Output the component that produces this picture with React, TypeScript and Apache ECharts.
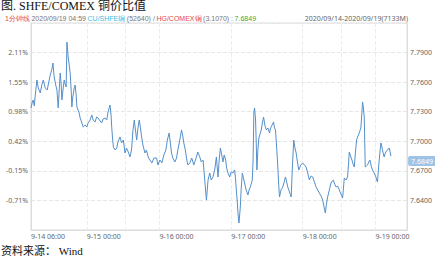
import React, { useEffect, useRef } from "react";
import * as echarts from "echarts";

// Trading-minute index (0..7133) and SHFE/COMEX copper price ratio
const MINUTES = [0,25,43,62,81,113,138,176,204,233,270,308,337,365,393,416,440,469,492,516,535,554,573,586,611,630,648,667,681,705,724,743,762,775,790,805,819,837,856,870,894,913,932,960,989,1027,1059,1083,1121,1153,1178,1216,1244,1272,1310,1342,1367,1405,1437,1461,1499,1518,1531,1546,1562,1594,1626,1650,1688,1717,1751,1783,1811,1845,1877,1906,1934,1959,1981,2004,2029,2053,2076,2098,2123,2161,2189,2223,2255,2293,2331,2382,2407,2444,2482,2520,2558,2586,2620,2643,2666,2690,2728,2760,2785,2822,2855,2879,2898,2927,2949,2974,3012,3049,3087,3138,3163,3201,3229,3263,3295,3327,3358,3390,3418,3452,3484,3516,3547,3569,3592,3617,3641,3664,3692,3711,3736,3768,3796,3830,3862,3881,3894,3910,3925,3944,3957,3970,3985,4008,4029,4051,4080,4114,4136,4159,4197,4212,4227,4240,4259,4273,4284,4303,4322,4344,4367,4391,4411,4435,4462,4492,4524,4543,4556,4581,4600,4618,4637,4662,4681,4698,4713,4741,4775,4802,4826,4849,4870,4902,4934,4959,4983,5006,5029,5053,5078,5116,5153,5186,5218,5248,5280,5312,5343,5375,5407,5437,5469,5501,5532,5554,5582,5601,5626,5658,5690,5715,5734,5759,5785,5815,5847,5879,5910,5926,5942,5974,6004,6021,6036,6061,6087,6108,6131,6154,6175,6201,6225,6244,6258,6273,6288,6305,6320,6329,6339,6362,6382,6405,6428,6452,6477,6509,6541,6556,6571,6588,6604,6622,6636,6651,6666,6683,6698,6713,6730,6760,6793,6811,6825];
const RATIO = [7.7338,7.7399,7.7419,7.7358,7.7470,7.7622,7.7541,7.7490,7.7571,7.7622,7.7541,7.7520,7.7601,7.7672,7.7723,7.7794,7.7652,7.7571,7.7520,7.7338,7.7520,7.7693,7.7571,7.7419,7.7541,7.7622,7.7581,7.7551,7.8007,7.7855,7.7774,7.7693,7.7520,7.7348,7.7439,7.7490,7.7541,7.7571,7.7470,7.7348,7.7317,7.7287,7.7236,7.7196,7.7145,7.7165,7.7145,7.7186,7.7216,7.7267,7.7216,7.7196,7.7246,7.7236,7.7206,7.7186,7.7226,7.7236,7.7216,7.7297,7.7368,7.7267,7.7145,7.7033,7.6942,7.6912,7.6932,7.6993,7.7044,7.6983,7.7013,7.6881,7.6932,7.6891,7.6841,7.6912,7.7115,7.7216,7.7115,7.7013,7.7135,7.7216,7.7135,7.7044,7.6962,7.6881,7.6912,7.6841,7.6810,7.6780,7.6830,7.6830,7.6759,7.6810,7.6780,7.6861,7.6912,7.7013,7.7084,7.6983,7.6881,7.6830,7.6790,7.6830,7.6912,7.7013,7.7115,7.7054,7.6983,7.6912,7.6830,7.6759,7.6780,7.6830,7.6759,7.6841,7.6891,7.6841,7.6790,7.6810,7.6607,7.6404,7.6607,7.6678,7.6607,7.6638,7.6709,7.6841,7.6638,7.6810,7.6932,7.6861,7.6790,7.6861,7.6810,7.6729,7.6678,7.6638,7.6688,7.6678,7.6709,7.6607,7.6506,7.6404,7.6272,7.6171,7.6252,7.6333,7.6506,7.6678,7.6628,7.6577,7.6506,7.6455,7.6506,7.6536,7.6607,7.6810,7.7297,7.7338,7.7216,7.6962,7.6709,7.6912,7.7033,7.7074,7.7115,7.7196,7.7246,7.7165,7.7115,7.7135,7.7084,7.7135,7.7145,7.7175,7.7196,7.7135,7.7115,7.6912,7.6739,7.6557,7.6435,7.6506,7.6536,7.6587,7.6638,7.6587,7.6536,7.6486,7.6435,7.6759,7.7013,7.6932,7.6881,7.6790,7.6709,7.6759,7.6780,7.6759,7.6739,7.6678,7.6607,7.6648,7.6638,7.6587,7.6536,7.6506,7.6475,7.6445,7.6404,7.6343,7.6272,7.6354,7.6435,7.6506,7.6577,7.6597,7.6607,7.6567,7.6536,7.6546,7.6506,7.6465,7.6425,7.6526,7.6628,7.6607,7.6638,7.6759,7.6891,7.6851,7.6810,7.6770,7.6739,7.6891,7.7013,7.7054,7.7084,7.7115,7.7145,7.7267,7.7399,7.7338,7.7246,7.7013,7.6739,7.6749,7.6759,7.6790,7.6810,7.6749,7.6709,7.6678,7.6638,7.6607,7.6587,7.6709,7.6810,7.6912,7.6983,7.6952,7.6912,7.6871,7.6841,7.6871,7.6891,7.6912,7.6932,7.6891,7.6849];

const LAST_VALUE = 7.6849;
const TOTAL_MINUTES = 7133;

// X axis labels (trading-minute positions)
const X_LABEL_POS = [0, 1059, 2437, 3799, 5152, 6533];
const X_LABELS = ["9-14 06:00", "9-15 00:00", "9-16 00:00", "9-17 00:00", "9-18 00:00", "9-19 00:00"];
const X_GRID_POS = [1059, 1783, 2437, 3799, 5152, 5884, 6533];

// Y axis
const Y_MIN = 7.61;
const Y_MAX = 7.82;
const Y_STEP = 0.03;
const PCT_LABELS = ["", "-0.71%", "-0.15%", "0.42%", "0.98%", "1.55%", "2.11%", ""];

export default function App() {
  const ref = useRef<HTMLDivElement>(null);

  useEffect(() => {
    if (!ref.current) return;
    const chart = echarts.init(ref.current, null, { renderer: "svg" });
    const axisColor = "#dcdcdc";
    const labelColor = "#666";
    const data = MINUTES.map((m, i) => [m, RATIO[i]]);

    chart.setOption({
      animation: false,
      backgroundColor: "#fff",
      grid: {
        left: 31,
        right: 27,
        top: 23,
        bottom: 29,
        show: true,
        borderColor: axisColor,
        borderWidth: 1,
      },
      xAxis: {
        type: "value",
        min: 0,
        max: TOTAL_MINUTES,
        axisLine: { show: true, lineStyle: { color: axisColor } },
        axisTick: { show: false, customValues: X_GRID_POS },
        axisLabel: {
          customValues: X_LABEL_POS,
          formatter: (v: number) => {
            const i = X_LABEL_POS.indexOf(Math.round(v));
            return i >= 0 ? X_LABELS[i] : "";
          },
          align: "left",
          color: labelColor,
          fontSize: 7,
          margin: 3,
          fontFamily: "Noto Sans",
        },
        splitLine: { show: true, lineStyle: { color: "#ececec", type: "dashed", width: 1 } },
      },
      yAxis: [
        {
          type: "value",
          position: "left",
          min: Y_MIN,
          max: Y_MAX,
          interval: Y_STEP,
          axisLine: { show: true, lineStyle: { color: axisColor } },
          axisTick: { show: false },
          axisLabel: {
            showMinLabel: false,
            showMaxLabel: false,
            formatter: (v: number) => PCT_LABELS[Math.round((v - Y_MIN) / Y_STEP)] || "",
            color: labelColor,
            fontSize: 7,
            margin: 3,
            fontFamily: "Noto Sans",
          },
          splitLine: { show: true, lineStyle: { color: "#e6e6e6", type: "dashed", width: 1 } },
        },
        {
          type: "value",
          position: "right",
          min: Y_MIN,
          max: Y_MAX,
          interval: Y_STEP,
          axisLine: { show: true, lineStyle: { color: axisColor } },
          axisTick: { show: false },
          axisLabel: {
            showMinLabel: false,
            showMaxLabel: false,
            formatter: (v: number) => v.toFixed(4),
            color: labelColor,
            fontSize: 7,
            margin: 3,
            fontFamily: "Noto Sans",
          },
          splitLine: { show: false },
        },
      ],
      series: [
        {
          type: "line",
          xAxisIndex: 0,
          yAxisIndex: 1,
          data,
          showSymbol: false,
          symbol: "none",
          lineStyle: { color: "#5590cb", width: 1 },
          markLine: {
            silent: true,
            symbol: "none",
            lineStyle: { color: "rgba(0,0,0,0)", width: 0 },
            data: [{ yAxis: LAST_VALUE }],
            label: {
              show: true,
              position: "end",
              formatter: LAST_VALUE.toFixed(4),
              backgroundColor: "#9ec3e6",
              color: "#fff",
              fontSize: 7,
              padding: [2, 3, 1, 3],
              borderRadius: 2,
              distance: 1,
              fontFamily: "Noto Sans",
            },
          },
        },
      ],
      graphic: [
        {
          type: "text",
          left: 1,
          top: 0,
          style: {
            text: "图. SHFE/COMEX 铜价比值",
            fontSize: 12,
            fontFamily: "'Liberation Serif', 'Noto Sans CJK SC', serif",
            fill: "#111",
          },
        },
        {
          type: "text",
          left: 5,
          top: 15,
          style: {
            text: "{r|1分钟线} {g|2020/09/19 04:59} {c|CU/SHFE铜} {g|(52640) /} {r|HG/COMEX铜} {g|(3.1070) :} {gr|7.6849}",
            fontSize: 7,
            fontFamily: "'Noto Sans CJK SC', 'Noto Sans', sans-serif",
            rich: {
              r: { fill: "#e8473d", fontSize: 7 },
              g: { fill: "#777", fontSize: 7 },
              c: { fill: "#46b9e2", fontSize: 7 },
              gr: { fill: "#3aa83a", fontSize: 7 },
            },
          },
        },
        {
          type: "text",
          right: 27,
          top: 15,
          style: {
            text: "2020/09/14-2020/09/19(7133M)",
            fontSize: 7,
            fontFamily: "'Noto Sans', sans-serif",
            fill: "#666",
          },
        },
        {
          type: "text",
          left: 1,
          top: 245,
          style: {
            text: "资料来源： Wind",
            fontSize: 11,
            fontFamily: "'Liberation Serif', 'Noto Sans CJK SC', serif",
            fill: "#111",
          },
        },
      ],
    });

    return () => chart.dispose();
  }, []);

  return (
    <div
      ref={ref}
      style={{ position: "fixed", left: 0, top: 0, width: 435, height: 259 }}
    />
  );
}
